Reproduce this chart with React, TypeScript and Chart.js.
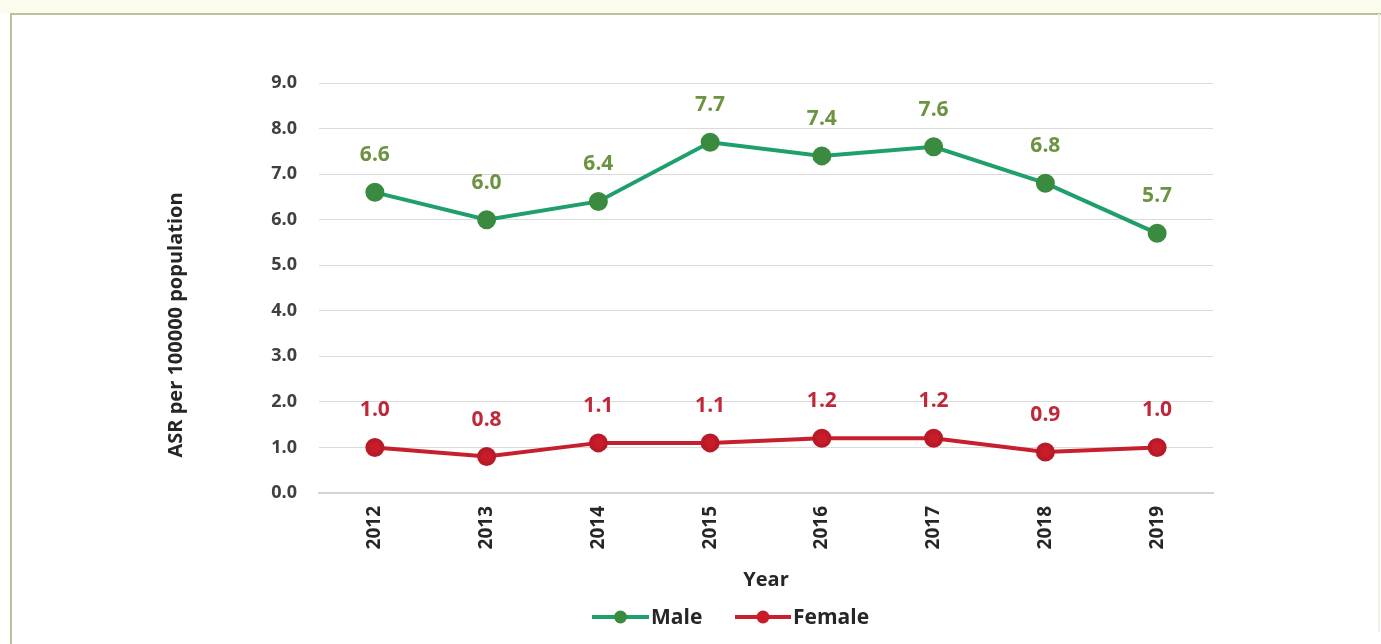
import React, { useEffect, useRef } from "react";
import { Chart, registerables } from "chart.js";

Chart.register(...registerables);

const years = ["2012", "2013", "2014", "2015", "2016", "2017", "2018", "2019"];
const maleValues = [6.6, 6.0, 6.4, 7.7, 7.4, 7.6, 6.8, 5.7];
const femaleValues = [1.0, 0.8, 1.1, 1.1, 1.2, 1.2, 0.9, 1.0];
const yTicks = [0, 1, 2, 3, 4, 5, 6, 7, 8, 9];
const seriesNames = ["Male", "Female"];
const yTitle = "ASR per 100000 population";
const xTitle = "Year";

const FONT = "'Open Sans', Lato, sans-serif";
const MALE_LINE = "#1f9f6b";
const MALE_POINT = "#3a8b40";
const MALE_LABEL = "#6b9340";
const FEMALE_LINE = "#c6202e";
const FEMALE_POINT = "#c91c2a";
const FEMALE_LABEL = "#c0283a";

const decorPlugin = {
  id: "decor",
  beforeDraw(chart: any) {
    const ctx = chart.ctx;
    ctx.save();
    ctx.fillStyle = "#ffffff";
    ctx.fillRect(0, 0, chart.width, chart.height);
    ctx.fillStyle = "#fbfbee";
    ctx.fillRect(0, 0, chart.width, 13);
    // frame
    ctx.strokeStyle = "#b9c29c";
    ctx.lineWidth = 2;
    ctx.beginPath();
    ctx.moveTo(11, chart.height);
    ctx.lineTo(11, 14);
    ctx.lineTo(chart.width, 14);
    ctx.stroke();
    ctx.strokeStyle = "#eef2e4";
    ctx.beginPath();
    ctx.moveTo(1379, 14);
    ctx.lineTo(1379, 632);
    ctx.stroke();
    ctx.restore();
  },
  afterDraw(chart: any) {
    const ctx = chart.ctx;
    const area = chart.chartArea;
    ctx.save();
    // y title
    ctx.fillStyle = "#262626";
    ctx.font = `bold 20px ${FONT}`;
    ctx.textAlign = "center";
    ctx.textBaseline = "middle";
    ctx.translate(176, 325);
    ctx.rotate(-Math.PI / 2);
    ctx.fillText(yTitle, 0, 0);
    ctx.setTransform(1, 0, 0, 1, 0, 0);
    // x title
    ctx.font = `bold 20px ${FONT}`;
    ctx.fillText(xTitle, (area.left + area.right) / 2, 580);

    // data labels
    const labelSets = [
      { idx: 0, color: MALE_LABEL, vals: maleValues },
      { idx: 1, color: FEMALE_LABEL, vals: femaleValues },
    ];
    ctx.font = `bold 21px ${FONT}`;
    labelSets.forEach((s) => {
      const meta = chart.getDatasetMeta(s.idx);
      ctx.fillStyle = s.color;
      meta.data.forEach((pt: any, i: number) => {
        ctx.fillText(s.vals[i].toFixed(1), pt.x, pt.y - 37);
      });
    });

    // legend
    const legendY = 617;
    const items = [
      { name: seriesNames[0], line: MALE_LINE, point: MALE_POINT, x0: 592, x1: 649, tx: 651 },
      { name: seriesNames[1], line: FEMALE_LINE, point: FEMALE_POINT, x0: 735, x1: 791, tx: 793 },
    ];
    items.forEach((it) => {
      ctx.strokeStyle = it.line;
      ctx.lineWidth = 4;
      ctx.beginPath();
      ctx.moveTo(it.x0, legendY);
      ctx.lineTo(it.x1, legendY);
      ctx.stroke();
      ctx.fillStyle = it.point;
      ctx.beginPath();
      ctx.arc((it.x0 + it.x1) / 2, legendY, 6.5, 0, Math.PI * 2);
      ctx.fill();
      ctx.fillStyle = "#262626";
      ctx.font = `bold 21px ${FONT}`;
      ctx.textAlign = "left";
      ctx.textBaseline = "middle";
      ctx.fillText(it.name, it.tx, legendY + 1);
    });
    ctx.restore();
  },
};

export default function App() {
  const ref = useRef<HTMLCanvasElement | null>(null);
  useEffect(() => {
    if (!ref.current) return;
    const chart = new Chart(ref.current, {
      type: "line",
      data: {
        labels: years,
        datasets: [
          {
            label: seriesNames[0],
            data: maleValues,
            borderColor: MALE_LINE,
            backgroundColor: MALE_POINT,
            pointBackgroundColor: MALE_POINT,
            pointBorderColor: MALE_POINT,
            borderWidth: 4,
            pointRadius: 7.5,
            tension: 0,
          },
          {
            label: seriesNames[1],
            data: femaleValues,
            borderColor: FEMALE_LINE,
            backgroundColor: FEMALE_POINT,
            pointBackgroundColor: FEMALE_POINT,
            pointBorderColor: "#b81a28",
            borderWidth: 4,
            pointRadius: 7.5,
            tension: 0,
          },
        ],
      },
      options: {
        animation: false,
        responsive: false,
        maintainAspectRatio: false,
        layout: { padding: { left: 150, right: 168, top: 83, bottom: 51 } },
        plugins: {
          legend: { display: false },
          tooltip: { enabled: false },
          title: { display: false },
        },
        scales: {
          x: {
            type: "category",
            offset: true,
            grid: { display: false, drawTicks: false },
            border: { display: true, color: "#d4d4d4", width: 2 },
            ticks: {
              maxRotation: 90,
              minRotation: 90,
              padding: 13,
              color: "#262626",
              font: { family: FONT, size: 19, weight: "bold" },
            },
            afterFit: (scale: any) => {
              scale.height = 100;
            },
          },
          y: {
            min: 0,
            max: 9,
            afterBuildTicks: (scale: any) => {
              scale.ticks = yTicks.map((v) => ({ value: v }));
            },
            grid: { color: "#dadada", lineWidth: 1, drawTicks: false },
            border: { display: false },
            ticks: {
              padding: 22,
              color: "#404040",
              font: { family: FONT, size: 18, weight: "bold" },
              callback: (v: any) => Number(v).toFixed(1),
            },
            afterFit: (scale: any) => {
              scale.width = 169;
            },
          },
        },
      },
      plugins: [decorPlugin],
    });
    return () => chart.destroy();
  }, []);
  return (
    <div style={{ position: "fixed", left: 0, top: 0, width: 1381, height: 644, background: "#fff" }}>
      <canvas ref={ref} width={1381} height={644} style={{ width: 1381, height: 644, display: "block" }} />
    </div>
  );
}
